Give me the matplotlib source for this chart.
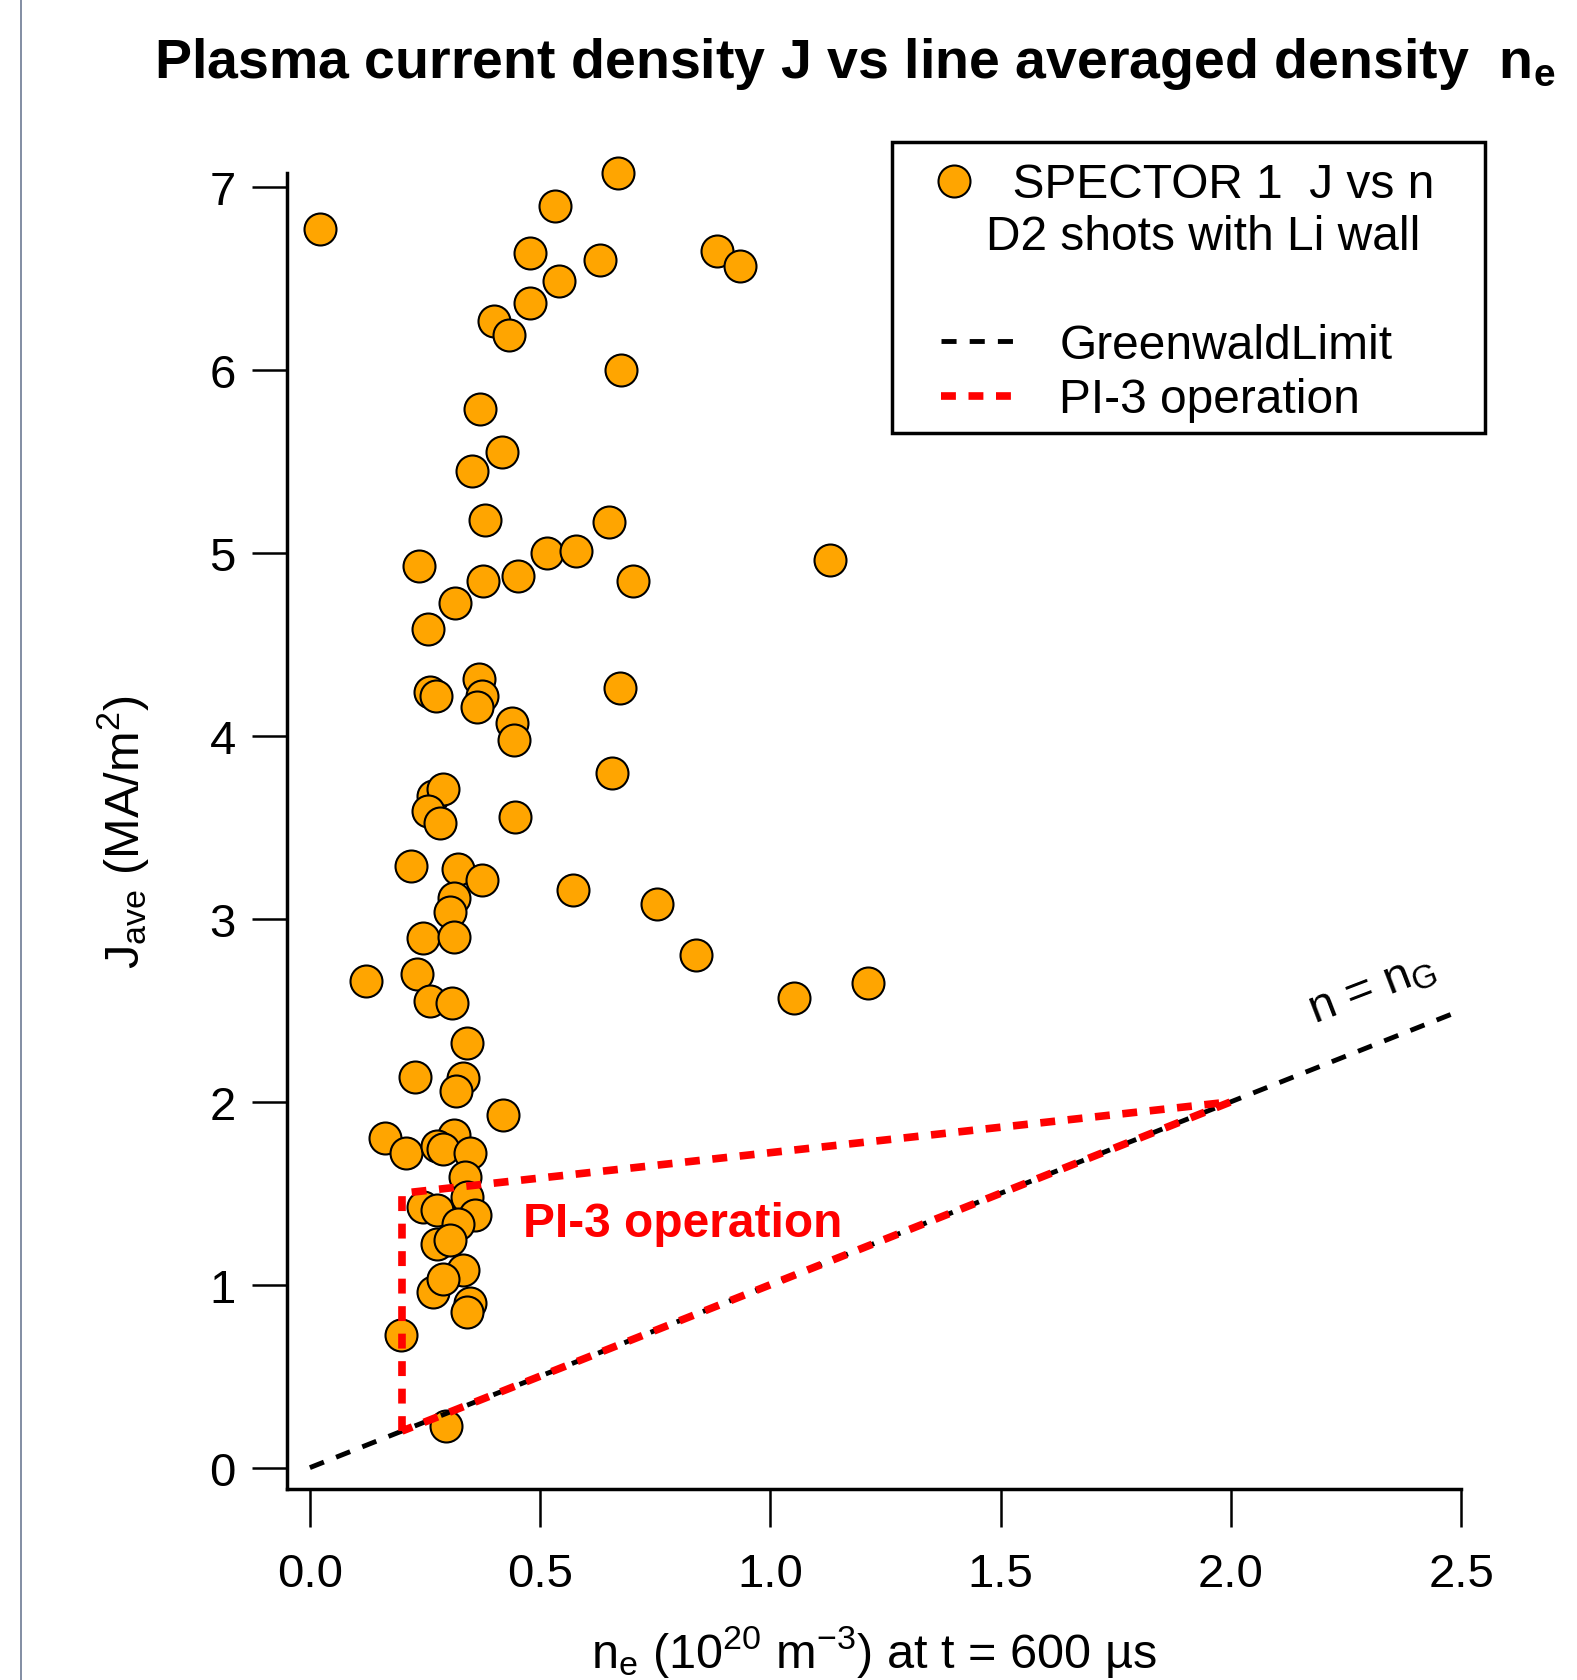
import matplotlib
matplotlib.use("Agg")
import matplotlib.pyplot as plt
from matplotlib.lines import Line2D
from matplotlib.patches import Rectangle

plt.rcParams['font.family'] = ['Liberation Sans', 'DejaVu Sans']
plt.rcParams['mathtext.fontset'] = 'custom'
plt.rcParams['mathtext.rm'] = 'Liberation Sans'
plt.rcParams['mathtext.it'] = 'Liberation Sans'
plt.rcParams['mathtext.bf'] = 'Liberation Sans:bold'
plt.rcParams['mathtext.default'] = 'rm'

# SPECTOR 1 shots
ne = [0.021, 0.670, 0.533, 0.477, 0.631, 0.885, 0.933, 0.542, 0.477, 0.400,
      0.433, 0.675, 0.370, 0.417, 0.351, 0.380, 0.650, 0.514, 0.578, 1.129,
      0.236, 0.375, 0.451, 0.701, 0.315, 0.257, 0.368, 0.260, 0.274, 0.373,
      0.362, 0.674, 0.438, 0.443, 0.656, 0.268, 0.288, 0.257, 0.283, 0.446,
      0.220, 0.322, 0.373, 0.572, 0.312, 0.305, 0.754, 0.838, 1.052, 1.213,
      0.246, 0.312, 0.122, 0.233, 0.260, 0.308, 0.342, 0.228, 0.333, 0.317,
      0.419, 0.163, 0.209, 0.312, 0.275, 0.290, 0.348, 0.337, 0.341, 0.246,
      0.275, 0.359, 0.322, 0.275, 0.304, 0.333, 0.268, 0.288, 0.348, 0.342,
      0.197, 0.296]
j_ave = [6.77, 7.08, 6.90, 6.64, 6.60, 6.65, 6.57, 6.49, 6.37, 6.27,
         6.19, 6.00, 5.79, 5.55, 5.45, 5.18, 5.17, 5.00, 5.01, 4.96,
         4.93, 4.845, 4.874, 4.845, 4.727, 4.587, 4.313, 4.24, 4.22, 4.216,
         4.16, 4.26, 4.07, 3.976, 3.80, 3.674, 3.712, 3.589, 3.527, 3.556,
         3.288, 3.273, 3.215, 3.156, 3.117, 3.04, 3.08, 2.80, 2.57, 2.65,
         2.897, 2.90, 2.66, 2.70, 2.55, 2.538, 2.323, 2.135, 2.13, 2.057,
         1.927, 1.80, 1.718, 1.82, 1.76, 1.741, 1.718, 1.589, 1.478, 1.425,
         1.41, 1.38, 1.33, 1.224, 1.244, 1.08, 0.96, 1.029, 0.90, 0.853,
         0.723, 0.228]

greenwald_x = [0.0, 2.5]
greenwald_y = [0.0, 2.5]

pi3_x = [0.2, 0.2, 2.0, 0.2]
pi3_y = [0.2, 1.5, 2.0, 0.2]

xticks = [0.0, 0.5, 1.0, 1.5, 2.0, 2.5]
yticks = [0, 1, 2, 3, 4, 5, 6, 7]

fig = plt.figure(figsize=(15.77, 16.81), dpi=100)
ax = fig.add_axes([0.1822, 0.1136, 0.7443, 0.7831])

sc = ax.scatter(ne, j_ave, s=530, c='orange', edgecolors='black', linewidths=1.5,
                zorder=3, clip_on=False)
gw, = ax.plot(greenwald_x, greenwald_y, color='black', lw=3.5, dashes=(3.1, 2.7), zorder=4)
pi3, = ax.plot(pi3_x, pi3_y, color='#ff0000', lw=5.5, dashes=(1.95, 1.65), zorder=5)

ax.set_xlim(-0.049, 2.5)
ax.set_ylim(-0.117, 7.08)
ax.set_xticks(xticks)
ax.set_xticklabels([f"{t:.1f}" for t in xticks])
ax.set_yticks(yticks)
ax.spines['top'].set_visible(False)
ax.spines['right'].set_visible(False)
for s in ('left', 'bottom'):
    ax.spines[s].set_linewidth(2.5)
ax.tick_params(axis='x', length=27, width=1.8, pad=18, labelsize=34)
ax.tick_params(axis='y', length=25, width=1.8, pad=12, labelsize=34)

ax.set_ylabel("J$_{ave}$ (MA/m$^{2}$)", fontsize=35, labelpad=42)
ax.set_xlabel("n$_{e}$ (10$^{20}$ m$^{-3}$) at t = 600 µs", fontsize=35, labelpad=20)

ax.text(0.463, 1.336, "PI-3 operation", color='#ff0000', fontsize=34.5,
        fontweight='bold', va='center', ha='left')
ax.text(2.307, 2.62, "n = n$_G$", fontsize=34, rotation=21, va='center', ha='center')

fig.text(0.542, 0.962, r"Plasma current density J vs line averaged density  $\mathbf{n_e}$",
         fontsize=40, fontweight='bold', ha='center', va='center')

# legend: box drawn on its own, entries from two frameless legends
fig.add_artist(Rectangle((0.5656, 0.7418), 0.3761, 0.1731, transform=fig.transFigure,
                         fill=False, edgecolor='black', lw=2.5, zorder=6))

leg1 = ax.legend([sc], ["  SPECTOR 1  J vs n\nD2 shots with Li wall"],
                 loc='upper left', bbox_to_anchor=(0.5914, 0.9028), bbox_transform=fig.transFigure,
                 fontsize=34.5, frameon=False, handlelength=0.9, handletextpad=0.22,
                 borderpad=0, borderaxespad=0, scatterpoints=1, scatteryoffsets=[1.4])
for t in leg1.get_texts():
    t.set_multialignment('left')
ax.add_artist(leg1)

leg2 = ax.legend([gw, pi3], ["GreenwaldLimit", "PI-3 operation"],
                 loc='upper left', bbox_to_anchor=(0.5967, 0.8074), bbox_transform=fig.transFigure,
                 fontsize=34.5, frameon=False, handlelength=1.71, handletextpad=0.76,
                 labelspacing=0.2, borderpad=0, borderaxespad=0)

fig.add_artist(Line2D([21 / 1577, 21 / 1577], [0, 1], color='#6d7a94', lw=1.2))

fig.savefig("out.png", dpi=100)
